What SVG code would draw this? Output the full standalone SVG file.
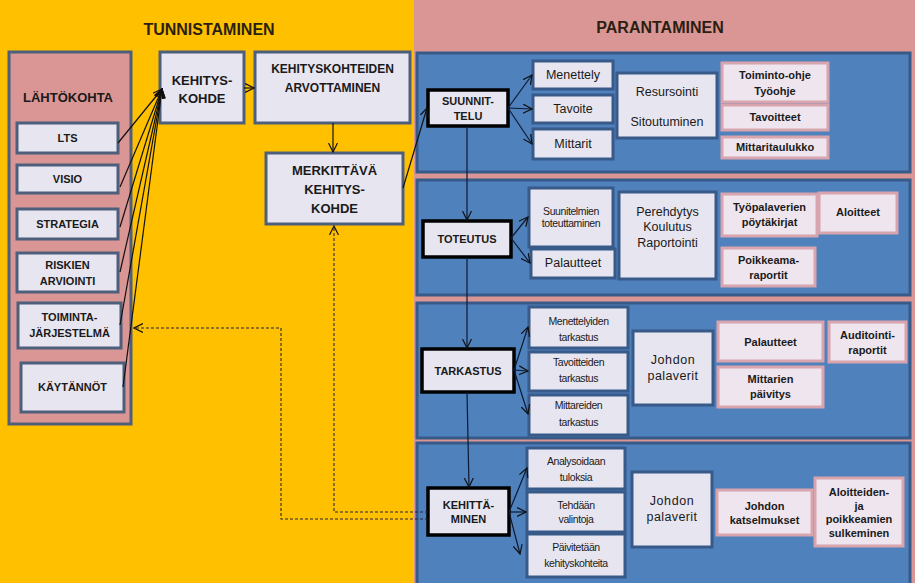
<svg xmlns="http://www.w3.org/2000/svg" width="915" height="583" viewBox="0 0 915 583">
<defs>
<style>
text{font-family:"Liberation Sans",Arial,sans-serif;fill:#1a1a1a;text-anchor:middle}
.t{font-size:16px;font-weight:bold;fill:#2a1f12}
.b13{font-size:13px;font-weight:bold}
.b12{font-size:12px;font-weight:bold}
.b11{font-size:11px;font-weight:bold}
.n12{font-size:12.5px}
.n10{font-size:10.5px;letter-spacing:-0.4px}
.lav{fill:#E7E5F0;stroke:#4E5F7C;stroke-width:3}
.lavb{fill:#E7E5F0;stroke:#385A88;stroke-width:3}
.key{fill:#E7E5F0;stroke:#000;stroke-width:3.5}
.pink{fill:#EEE5EE;stroke:#D8A4AE;stroke-width:3}
.panel{fill:#4F81BD;stroke:#385A88;stroke-width:3}
.ln{stroke:#111;stroke-width:1.2;fill:none}
.lnb{stroke:#0e1a33;stroke-width:1.2;fill:none}
.dash{stroke:#2b2540;stroke-width:1.1;fill:none;stroke-dasharray:3,2}
</style>
<marker id="ah" viewBox="0 0 10 10" refX="9" refY="5" markerWidth="10" markerHeight="10" markerUnits="userSpaceOnUse" orient="auto">
<path d="M0,0.5 L9,5 L0,9.5" fill="none" stroke="#111" stroke-width="1.2"/>
</marker>
</defs>
<g id="background">
<rect x="0" y="0" width="414" height="583" fill="#FFC000"/>
<rect x="414" y="0" width="501" height="583" fill="#DA9694"/>
<text class="t" x="209" y="35">TUNNISTAMINEN</text>
<text class="t" x="660" y="33">PARANTAMINEN</text>
</g>
<g id="lahtokohta">
<rect x="9" y="52" width="122" height="372" fill="#D99694" stroke="#4E5F7C" stroke-width="3"/>
<text class="b13" x="68" y="102">LÄHTÖKOHTA</text>
</g>
<g id="lts"><rect class="lav" x="17" y="123" width="101" height="30"/><text class="b11" x="67.5" y="142">LTS</text></g>
<g id="visio"><rect class="lav" x="17" y="165" width="101" height="28"/><text class="b11" x="67.5" y="183">VISIO</text></g>
<g id="strategia"><rect class="lav" x="17" y="209" width="101" height="30"/><text class="b11" x="67.5" y="228">STRATEGIA</text></g>
<g id="riskien"><rect class="lav" x="17" y="253" width="101" height="39"/><text class="b11" x="67.5" y="269">RISKIEN</text><text class="b11" x="67.5" y="285">ARVIOINTI</text></g>
<g id="toimintajarjestelma"><rect class="lav" x="18" y="303" width="103" height="45"/><text class="b11" x="69.5" y="321">TOIMINTA-</text><text class="b11" x="69.5" y="337">JÄRJESTELMÄ</text></g>
<g id="kaytannot"><rect class="lav" x="21" y="363" width="103" height="49"/><text class="b11" x="72.5" y="391">KÄYTÄNNÖT</text></g>
<g id="kehityskohde"><rect class="lav" x="160" y="52" width="84" height="71"/><text class="b13" x="202" y="85">KEHITYS-</text><text class="b13" x="202" y="103">KOHDE</text></g>
<g id="arvottaminen"><rect class="lav" x="255" y="52" width="155" height="71"/><text class="b12" x="332.5" y="73">KEHITYSKOHTEIDEN</text><text class="b12" x="332.5" y="92">ARVOTTAMINEN</text></g>
<g id="merkittava"><rect class="lav" x="266" y="153" width="137" height="71"/><text class="b13" x="334.5" y="175">MERKITTÄVÄ</text><text class="b13" x="334.5" y="194">KEHITYS-</text><text class="b13" x="334.5" y="213">KOHDE</text></g>
<g id="panels">
<rect class="panel" x="417" y="53" width="493" height="119"/>
<rect class="panel" x="417" y="180" width="493" height="115"/>
<rect class="panel" x="417" y="303" width="493" height="135"/>
<rect class="panel" x="417" y="443" width="493" height="150"/>
</g>
<g id="suunnittelu"><rect class="key" x="428" y="90" width="80" height="36"/><text class="b11" x="468" y="105">SUUNNIT-</text><text class="b11" x="468" y="120">TELU</text></g>
<g id="menettely"><rect class="lavb" x="533" y="61" width="80" height="28"/><text class="n12" x="573" y="79">Menettely</text></g>
<g id="tavoite"><rect class="lavb" x="533" y="95" width="80" height="28"/><text class="n12" x="573" y="113">Tavoite</text></g>
<g id="mittarit"><rect class="lavb" x="533" y="129" width="80" height="30"/><text class="n12" x="573" y="148">Mittarit</text></g>
<g id="resursointi"><rect class="lavb" x="617" y="73" width="100" height="65"/><text class="n12" x="667" y="96">Resursointi</text><text class="n12" x="667" y="126">Sitoutuminen</text></g>
<g id="toimintoohje"><rect class="pink" x="722" y="63" width="106" height="39"/><text class="b11" x="775" y="79">Toiminto-ohje</text><text class="b11" x="775" y="95">Työohje</text></g>
<g id="tavoitteet"><rect class="pink" x="722" y="105" width="106" height="25"/><text class="b11" x="775" y="121">Tavoitteet</text></g>
<g id="mittaritaulukko"><rect class="pink" x="722" y="137" width="106" height="21"/><text class="b11" x="775" y="151">Mittaritaulukko</text></g>
<g id="toteutus"><rect class="key" x="423" y="221" width="88" height="36"/><text class="b11" x="467" y="243">TOTEUTUS</text></g>
<g id="suunitelmien"><rect class="lavb" x="529" y="188" width="84" height="59"/><text class="n10" x="571" y="214.5">Suunitelmien</text><text class="n10" x="571" y="227">toteuttaminen</text></g>
<g id="palautteet1"><rect class="lavb" x="531" y="249" width="84" height="29"/><text class="n12" x="573" y="267">Palautteet</text></g>
<g id="perehdytys"><rect class="lavb" x="619" y="192" width="97" height="87"/><text class="n12" x="667.5" y="216">Perehdytys</text><text class="n12" x="667.5" y="231">Koulutus</text><text class="n12" x="667.5" y="247">Raportointi</text></g>
<g id="tyopalaverien"><rect class="pink" x="722" y="194" width="95" height="42"/><text class="b11" x="769.5" y="211">Työpalaverien</text><text class="b11" x="769.5" y="226">pöytäkirjat</text></g>
<g id="aloitteet"><rect class="pink" x="819" y="193" width="78" height="40"/><text class="b11" x="858" y="216">Aloitteet</text></g>
<g id="poikkeamaraportit"><rect class="pink" x="722" y="248" width="93" height="38"/><text class="b11" x="768.5" y="264">Poikkeama-</text><text class="b11" x="768.5" y="279">raportit</text></g>
<g id="tarkastus"><rect class="key" x="422" y="349" width="92" height="43"/><text class="b11" x="468" y="375">TARKASTUS</text></g>
<g id="menettelyiden"><rect class="lavb" x="529" y="307" width="99" height="41"/><text class="n10" x="578.5" y="324.5">Menettelyiden</text><text class="n10" x="578.5" y="340.5">tarkastus</text></g>
<g id="tavoitteiden"><rect class="lavb" x="529" y="352" width="99" height="39"/><text class="n10" x="578.5" y="366">Tavoitteiden</text><text class="n10" x="578.5" y="382">tarkastus</text></g>
<g id="mittareiden"><rect class="lavb" x="529" y="395" width="99" height="40"/><text class="n10" x="578.5" y="409">Mittareiden</text><text class="n10" x="578.5" y="426">tarkastus</text></g>
<g id="johdonpalaverit1"><rect class="lavb" x="633" y="331" width="80" height="74"/><text class="n12" x="673" y="364" letter-spacing="0.6">Johdon</text><text class="n12" x="673" y="380" letter-spacing="0.4">palaverit</text></g>
<g id="palautteet2"><rect class="pink" x="718" y="322" width="105" height="39"/><text class="b11" x="770.5" y="346">Palautteet</text></g>
<g id="auditointiraportit"><rect class="pink" x="829" y="322" width="77" height="40"/><text class="b11" x="867.5" y="339">Auditointi-</text><text class="b11" x="867.5" y="354">raportit</text></g>
<g id="mittarienpaivitys"><rect class="pink" x="718" y="367" width="105" height="40"/><text class="b11" x="770.5" y="383">Mittarien</text><text class="b11" x="770.5" y="398">päivitys</text></g>
<g id="kehittaminen"><rect class="key" x="428" y="488" width="81" height="47"/><text class="b11" x="468.5" y="509">KEHITTÄ-</text><text class="b11" x="468.5" y="523">MINEN</text></g>
<g id="analysoidaan"><rect class="lavb" x="527" y="448" width="98" height="41"/><text class="n10" x="576" y="464.5">Analysoidaan</text><text class="n10" x="576" y="480.5">tuloksia</text></g>
<g id="tehdaan"><rect class="lavb" x="527" y="492" width="98" height="40"/><text class="n10" x="576" y="508.5">Tehdään</text><text class="n10" x="576" y="522.5">valintoja</text></g>
<g id="paivitetaan"><rect class="lavb" x="527" y="534" width="98" height="43"/><text class="n10" x="576" y="550.5">Päivitetään</text><text class="n10" x="576" y="566.5">kehityskohteita</text></g>
<g id="johdonpalaverit2"><rect class="lavb" x="632" y="472" width="80" height="75"/><text class="n12" x="672" y="505" letter-spacing="0.6">Johdon</text><text class="n12" x="672" y="521" letter-spacing="0.4">palaverit</text></g>
<g id="katselmukset"><rect class="pink" x="717" y="490" width="95" height="45"/><text class="b11" x="764.5" y="510">Johdon</text><text class="b11" x="764.5" y="524">katselmukset</text></g>
<g id="sulkeminen"><rect class="pink" x="815" y="478" width="88" height="68"/><text class="b11" x="859" y="496">Aloitteiden-</text><text class="b11" x="859" y="510">ja</text><text class="b11" x="859" y="523">poikkeamien</text><text class="b11" x="859" y="537">sulkeminen</text></g>
<g id="connectors">
<line class="ln" x1="118" y1="143" x2="162" y2="89" marker-end="url(#ah)"/>
<line class="ln" x1="120" y1="187" x2="162" y2="89" marker-end="url(#ah)"/>
<line class="ln" x1="120" y1="227" x2="162" y2="89" marker-end="url(#ah)"/>
<line class="ln" x1="120" y1="272" x2="162" y2="89" marker-end="url(#ah)"/>
<line class="ln" x1="120" y1="325" x2="162" y2="89" marker-end="url(#ah)"/>
<line class="ln" x1="123" y1="387" x2="162" y2="89" marker-end="url(#ah)"/>
<line class="ln" x1="244" y1="88" x2="254" y2="88" marker-end="url(#ah)"/>
<line class="ln" x1="333" y1="123" x2="333" y2="152" marker-end="url(#ah)"/>
<line class="ln" x1="403" y1="188" x2="427" y2="108" marker-end="url(#ah)"/>
<line class="lnb" x1="467" y1="126" x2="467" y2="220" marker-end="url(#ah)"/>
<line class="lnb" x1="467" y1="257" x2="467" y2="348" marker-end="url(#ah)"/>
<line class="lnb" x1="467" y1="392" x2="469" y2="487" marker-end="url(#ah)"/>
<line class="lnb" x1="508" y1="108" x2="532" y2="75" marker-end="url(#ah)"/>
<line class="lnb" x1="508" y1="108" x2="532" y2="109" marker-end="url(#ah)"/>
<line class="lnb" x1="508" y1="108" x2="532" y2="144" marker-end="url(#ah)"/>
<line class="lnb" x1="511" y1="238" x2="528" y2="217" marker-end="url(#ah)"/>
<line class="lnb" x1="511" y1="238" x2="530" y2="263" marker-end="url(#ah)"/>
<line class="lnb" x1="514" y1="370" x2="528" y2="327" marker-end="url(#ah)"/>
<line class="lnb" x1="514" y1="370" x2="528" y2="371" marker-end="url(#ah)"/>
<line class="lnb" x1="514" y1="370" x2="528" y2="414" marker-end="url(#ah)"/>
<line class="lnb" x1="509" y1="512" x2="527" y2="468" marker-end="url(#ah)"/>
<line class="lnb" x1="509" y1="512" x2="526" y2="512" marker-end="url(#ah)"/>
<line class="lnb" x1="509" y1="512" x2="520" y2="554" marker-end="url(#ah)"/>
<path class="dash" d="M428,512 H334 V226" marker-end="url(#ah)"/>
<path class="dash" d="M428,519 H281 V328 H134" marker-end="url(#ah)"/>
</g>
</svg>
